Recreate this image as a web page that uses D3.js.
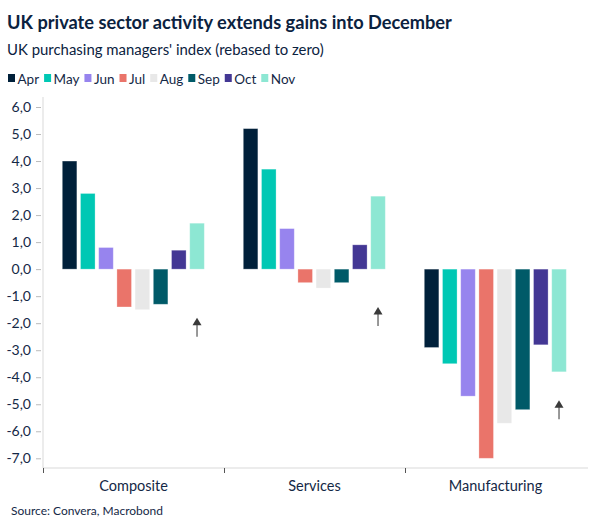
<!DOCTYPE html>
<html>
<head>
<meta charset="utf-8">
<script src="https://cdn.jsdelivr.net/npm/d3@7"></script>
<style>
  html, body { margin: 0; padding: 0; background: #fff; }
  svg { display: block; font-family: "Lato", "Open Sans", sans-serif; }
</style>
</head>
<body>
<svg id="chart" width="604" height="529"></svg>
<script>
const categories = ["Composite", "Services", "Manufacturing"];
const months = ["Apr", "May", "Jun", "Jul", "Aug", "Sep", "Oct", "Nov"];
const composite = [4.0, 2.8, 0.8, -1.4, -1.5, -1.3, 0.7, 1.7];
const services = [5.2, 3.7, 1.5, -0.5, -0.7, -0.5, 0.9, 2.7];
const manufacturing = [-2.9, -3.5, -4.7, -7.0, -5.7, -5.2, -2.8, -3.8];
const arrowTips = [-1.8, -1.4, -4.85];
const yTicks = [6, 5, 4, 3, 2, 1, 0, -1, -2, -3, -4, -5, -6, -7];
const colors = ["#00203a", "#00c8b4", "#9784ee", "#ea746a", "#e8e8e8", "#005a68", "#433794", "#8de7d3"];

(function () {
const seriesByCat = [composite, services, manufacturing];
const textColor = "#142846";

const svg = d3.select("#chart");
const mLeft = 43, mRight = 586, bottomAxis = 468;

function fit(sel, target) {
  const fs = +sel.attr("font-size");
  const w = sel.node().getComputedTextLength();
  if (w > 0) sel.attr("font-size", fs * target / w);
}

const y = d3.scaleLinear().domain([-7, 6]).range([458.3, 107]);
const x0 = d3.scaleBand().domain(categories).range([mLeft, mRight]).padding(0);
const x1 = d3.scaleBand().domain(months)
  .range([19.3, x0.bandwidth() - 19.7]).paddingInner(0.2).paddingOuter(0);
const color = d3.scaleOrdinal().domain(months).range(colors);

const loc = d3.formatLocale({decimal: ",", thousands: ".", grouping: [3], currency: ["", ""], minus: "-"});
const fmt = loc.format(".1f");

// Title
const t1 = svg.append("text").attr("x", 7).attr("y", 29)
  .attr("font-size", 19.5).attr("font-weight", 700).attr("fill", "#0b2240")
  .text("UK private sector activity extends gains into December");
fit(t1, 445);
const t2 = svg.append("text").attr("x", 7).attr("y", 55)
  .attr("font-size", 16).attr("fill", "#0b2240")
  .text("UK purchasing managers' index (rebased to zero)");
fit(t2, 317);

// Legend (flow layout)
const lg = svg.append("g");
let lx = 8;
months.forEach((m, i) => {
  const g = lg.append("g").attr("transform", `translate(${lx},0)`);
  g.append("rect").attr("x", 0).attr("y", 74).attr("width", 7).attr("height", 8).attr("fill", color(m));
  const tx = g.append("text").attr("x", 9.5).attr("y", 83.5).attr("font-size", 13.5).attr("fill", textColor).text(m);
  lx += 9.5 + tx.node().getComputedTextLength() + 5;
});

// Y axis
const yAxis = d3.axisLeft(y).tickValues(yTicks).tickSize(5).tickPadding(5).tickFormat(fmt);
const yg = svg.append("g").attr("transform", `translate(${mLeft - 2},0)`).call(yAxis);
yg.select(".domain").remove();
yg.selectAll(".tick line").attr("stroke", "#bbbbbb");
yg.selectAll(".tick text").attr("font-size", 14).attr("fill", textColor)
  .attr("font-family", "Lato, 'Open Sans', sans-serif");
svg.append("line").attr("x1", mLeft).attr("x2", mLeft).attr("y1", 97).attr("y2", bottomAxis)
  .attr("stroke", "#d9d9d9").attr("stroke-width", 1);

// X axis
svg.append("line").attr("x1", mLeft).attr("x2", mRight + 2).attr("y1", bottomAxis).attr("y2", bottomAxis)
  .attr("stroke", "#d9d9d9").attr("stroke-width", 1);
const tickXs = categories.map(c => x0(c));
svg.selectAll(".xtick").data(tickXs).join("line")
  .attr("x1", d => d + 0.5).attr("x2", d => d + 0.5).attr("y1", bottomAxis).attr("y2", bottomAxis + 5)
  .attr("stroke", "#555").attr("stroke-width", 1);
svg.selectAll(".xlab").data(categories).join("text")
  .attr("x", d => x0(d) + x0.bandwidth() / 2).attr("y", 491)
  .attr("text-anchor", "middle").attr("font-size", 14.5).attr("fill", textColor).text(d => d);

// Bars
categories.forEach((c, ci) => {
  const g = svg.append("g").attr("transform", `translate(${x0(c)},0)`);
  g.selectAll("rect").data(months.map((m, i) => ({m, v: seriesByCat[ci][i]}))).join("rect")
    .attr("x", d => x1(d.m))
    .attr("width", x1.bandwidth())
    .attr("y", d => y(Math.max(0, d.v)))
    .attr("height", d => Math.abs(y(d.v) - y(0)))
    .attr("fill", d => color(d.m))
    .attr("stroke", "rgba(255,255,255,0.35)").attr("stroke-width", 0.8);

  const ax = x1("Nov") + x1.bandwidth() / 2;
  const tipY = y(arrowTips[ci]);
  g.append("line").attr("x1", ax).attr("x2", ax).attr("y1", tipY + 6).attr("y2", tipY + 19)
    .attr("stroke", "#555").attr("stroke-width", 1.2);
  g.append("path").attr("d", `M${ax},${tipY} L${ax - 4.5},${tipY + 7.5} L${ax + 4.5},${tipY + 7.5} Z`)
    .attr("fill", "#3a3a3a");
});

// Source
const src = svg.append("text").attr("x", 11).attr("y", 515).attr("font-size", 12.5).attr("fill", textColor)
  .text("Source: Convera, Macrobond");
fit(src, 152);
})();
</script>
</body>
</html>
